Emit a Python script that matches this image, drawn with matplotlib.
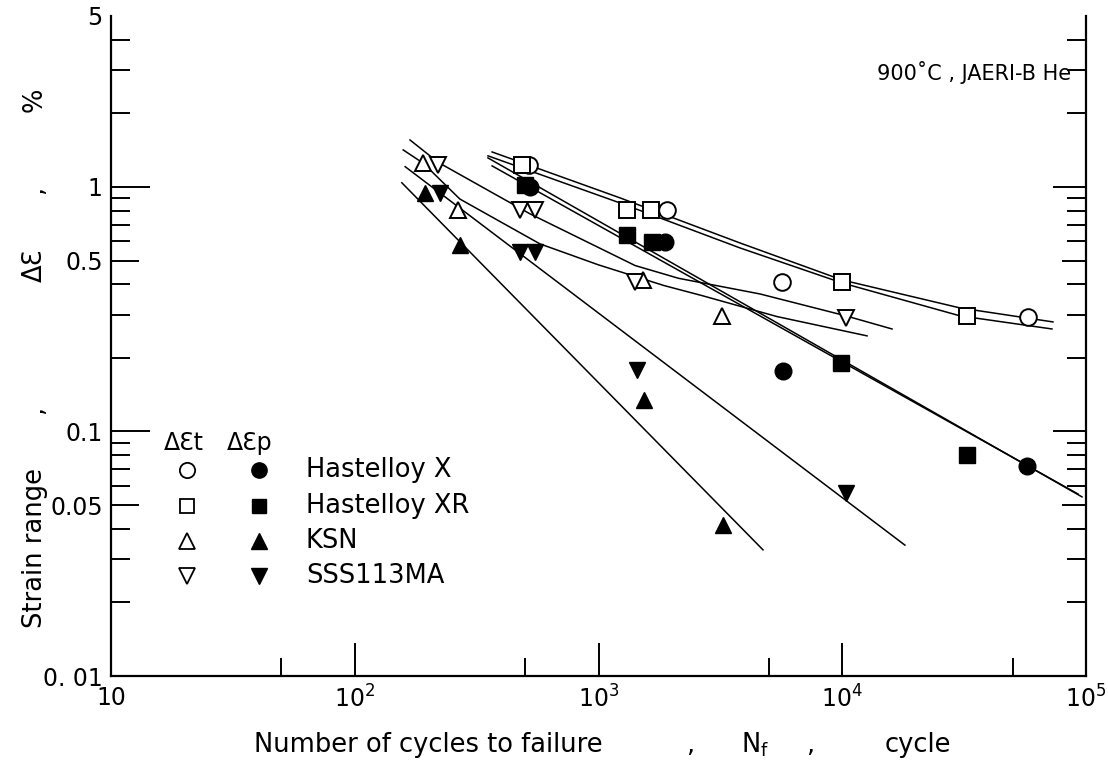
import numpy as np
import matplotlib
matplotlib.use("Agg")
import matplotlib.pyplot as plt
from matplotlib.ticker import FixedLocator, NullFormatter

# ---------------- data ----------------
# total strain range (open symbols)
x_t_N = [519, 1909, 5666, 57800]
x_t_e = [1.23, 0.805, 0.409, 0.294]
xr_t_N = [485, 1309, 1642, 9975, 32500]
xr_t_e = [1.23, 0.805, 0.805, 0.409, 0.297]
ksn_t_N = [191, 265, 1524, 3213]
ksn_t_e = [1.25, 0.805, 0.417, 0.297]
sss_t_N = [220, 476, 550, 1413, 10350]
sss_t_e = [1.23, 0.805, 0.805, 0.409, 0.291]

# plastic strain range (filled symbols)
x_p_N = [524, 1875, 5710, 57300]
x_p_e = [1.0, 0.596, 0.177, 0.0723]
xr_p_N = [500, 1309, 1658, 9890, 32500]
xr_p_e = [1.02, 0.636, 0.596, 0.19, 0.080]
ksn_p_N = [194, 270, 1538, 3244]
ksn_p_e = [0.945, 0.579, 0.1345, 0.0414]
sss_p_N = [224, 476, 550, 1439, 10350]
sss_p_e = [0.945, 0.542, 0.542, 0.178, 0.056]

# fitted lines / curves
x_tfit_N = [366, 1225, 3806, 9975, 30420, 73200]
x_tfit_e = [1.39, 0.902, 0.590, 0.4165, 0.320, 0.2805]
xr_tfit_N = [352, 1225, 3806, 9975, 30420, 72500]
xr_tfit_e = [1.34, 0.86, 0.563, 0.405, 0.297, 0.2625]
ksn_tfit_N = [158, 191, 270, 575, 1000, 1858, 2670, 5400, 12640]
ksn_tfit_e = [1.417, 1.25, 0.892, 0.585, 0.480, 0.395, 0.359, 0.295, 0.246]
sss_tfit_N = [168.5, 220, 525, 1413, 2130, 4599, 10350, 16000]
sss_tfit_e = [1.556, 1.26, 0.775, 0.477, 0.423, 0.365, 0.297, 0.2625]

x_pfit_N = [352, 96300]
x_pfit_e = [1.314, 0.054]
xr_pfit_N = [366, 92700]
xr_pfit_e = [1.219, 0.0555]
ksn_pfit_N = [156, 4730]
ksn_pfit_e = [1.04, 0.0328]
sss_pfit_N = [161, 18070]
sss_pfit_e = [1.21, 0.0343]

materials = ["Hastelloy X", "Hastelloy XR", "KSN", "SSS113MA"]
markers = ["o", "s", "^", "v"]

y_ticks_labeled = [0.01, 0.05, 0.1, 0.5, 1, 5]
y_tick_labels = ["0. 01", "0.05", "0.1", "0.5", "1", "5"]
x_ticks_labeled = [10, 100, 1000, 10000, 100000]
x_tick_labels = ["10", r"$\mathregular{10^2}$", r"$\mathregular{10^3}$",
                 r"$\mathregular{10^4}$", r"$\mathregular{10^5}$"]

# ---------------- figure ----------------
plt.rcParams['font.family'] = ['DejaVu Sans']
plt.rcParams['mathtext.fontset'] = 'dejavusans'
W, H = 1108, 769
fig = plt.figure(figsize=(W / 100, H / 100), dpi=100)
L, R, B, T = 111, 1086, 676, 16
ax = fig.add_axes([L / W, 1 - B / H, (R - L) / W, (B - T) / H])
ax.set_xscale('log')
ax.set_yscale('log')
ax.set_xlim(10, 1e5)
ax.set_ylim(0.01, 5)
for s in ax.spines.values():
    s.set_linewidth(1.6)
ax.spines['top'].set_visible(False)

lw = 1.1
for N, e in [(x_tfit_N, x_tfit_e), (xr_tfit_N, xr_tfit_e),
             (ksn_tfit_N, ksn_tfit_e), (sss_tfit_N, sss_tfit_e),
             (x_pfit_N, x_pfit_e), (xr_pfit_N, xr_pfit_e),
             (ksn_pfit_N, ksn_pfit_e), (sss_pfit_N, sss_pfit_e)]:
    ax.plot(N, e, color='black', lw=lw, zorder=2)

sizes = {"o": 12, "s": 11, "^": 12, "v": 12}
open_sets = [(x_t_N, x_t_e), (xr_t_N, xr_t_e), (ksn_t_N, ksn_t_e), (sss_t_N, sss_t_e)]
fill_sets = [(x_p_N, x_p_e), (xr_p_N, xr_p_e), (ksn_p_N, ksn_p_e), (sss_p_N, sss_p_e)]
for (N, e), m in zip(open_sets, markers):
    ax.plot(N, e, ls='none', marker=m, ms=sizes[m], mfc='white', mec='black',
            mew=1.4, zorder=3)
for (N, e), m in zip(fill_sets, markers):
    ax.plot(N, e, ls='none', marker=m, ms=sizes[m], mfc='black', mec='black',
            mew=1.0, zorder=3)

# ticks
fs = 17
ax.yaxis.set_major_locator(FixedLocator(y_ticks_labeled))
ax.yaxis.set_ticklabels(y_tick_labels)
minor_y = [v * 10.0 ** k for k in (-2, -1, 0) for v in range(2, 10) if v != 5 and v * 10.0 ** k < 5]
ax.yaxis.set_minor_locator(FixedLocator(minor_y))
ax.yaxis.set_minor_formatter(NullFormatter())
ax.tick_params(axis='y', which='both', direction='in', left=True, right=True,
               labelsize=fs, width=1.4, pad=6)
ax.tick_params(axis='y', which='minor', length=14)
ax.tick_params(axis='y', which='major', length=20)
ylen = {0.01: 0, 0.05: 20, 0.1: 28, 0.5: 20, 1: 28, 5: 0}
for t, v in zip(ax.yaxis.get_major_ticks(), y_ticks_labeled):
    t.tick1line.set_markersize(ylen[v])
    t.tick2line.set_markersize(ylen[v] * 0.85)

ax.xaxis.set_major_locator(FixedLocator(x_ticks_labeled))
ax.xaxis.set_ticklabels(x_tick_labels)
minor_x = [5 * 10.0 ** k for k in range(1, 5)]
ax.xaxis.set_minor_locator(FixedLocator(minor_x))
ax.xaxis.set_minor_formatter(NullFormatter())
ax.tick_params(axis='x', which='both', direction='in', bottom=True, top=False,
               labelsize=fs, width=1.4, pad=7)
ax.tick_params(axis='x', which='major', length=24)
ax.tick_params(axis='x', which='minor', length=13)

# annotation
ax.text(0.985, 0.915, "900˚C , JAERI-B He", transform=ax.transAxes,
        ha='right', va='center', fontsize=15)

# axis labels (split pieces like the original)
lfs = 18.5
fig.text(35 / W, 1 - 548 / H, "Strain range", rotation=90, ha='center', va='center', fontsize=lfs)
fig.text(35 / W, 1 - 410 / H, ",", rotation=90, ha='center', va='center', fontsize=lfs)
fig.text(35 / W, 1 - 265 / H, "ΔƐ", rotation=90, ha='center', va='center', fontsize=lfs)
fig.text(35 / W, 1 - 190 / H, ",", rotation=90, ha='center', va='center', fontsize=lfs)
fig.text(35 / W, 1 - 100 / H, "%", rotation=90, ha='center', va='center', fontsize=lfs)

fig.text(428 / W, 1 - 745 / H, "Number of cycles to failure", ha='center', va='center', fontsize=lfs)
fig.text(690 / W, 1 - 745 / H, ",", ha='center', va='center', fontsize=lfs)
fig.text(755 / W, 1 - 745 / H, r"N$_\mathregular{f}$", ha='center', va='center', fontsize=lfs)
fig.text(810 / W, 1 - 745 / H, ",", ha='center', va='center', fontsize=lfs)
fig.text(918 / W, 1 - 745 / H, "cycle", ha='center', va='center', fontsize=lfs)

# legend drawn manually
def axfrac(px, py):
    return (px - L) / (R - L), (B - py) / (B - T)

hx, hy = axfrac(184, 443)
ax.text(hx, hy, "ΔƐt", transform=ax.transAxes, ha='center', va='center', fontsize=17)
hx, hy = axfrac(250, 443)
ax.text(hx, hy, "ΔƐp", transform=ax.transAxes, ha='center', va='center', fontsize=17)
rows_py = [470, 506, 541, 576]
for name, m, py in zip(materials, markers, rows_py):
    ox, oy = axfrac(187, py)
    fx, fy = axfrac(259, py)
    tx, ty = axfrac(306, py)
    ax.plot([ox], [oy], transform=ax.transAxes, marker=m, ms=sizes[m] - 1,
            mfc='white', mec='black', mew=1.3, ls='none', clip_on=False)
    ax.plot([fx], [fy], transform=ax.transAxes, marker=m, ms=sizes[m] - 1,
            mfc='black', mec='black', ls='none', clip_on=False)
    ax.text(tx, ty, name, transform=ax.transAxes, ha='left', va='center', fontsize=18.5)

fig.savefig("out.png", dpi=100)
